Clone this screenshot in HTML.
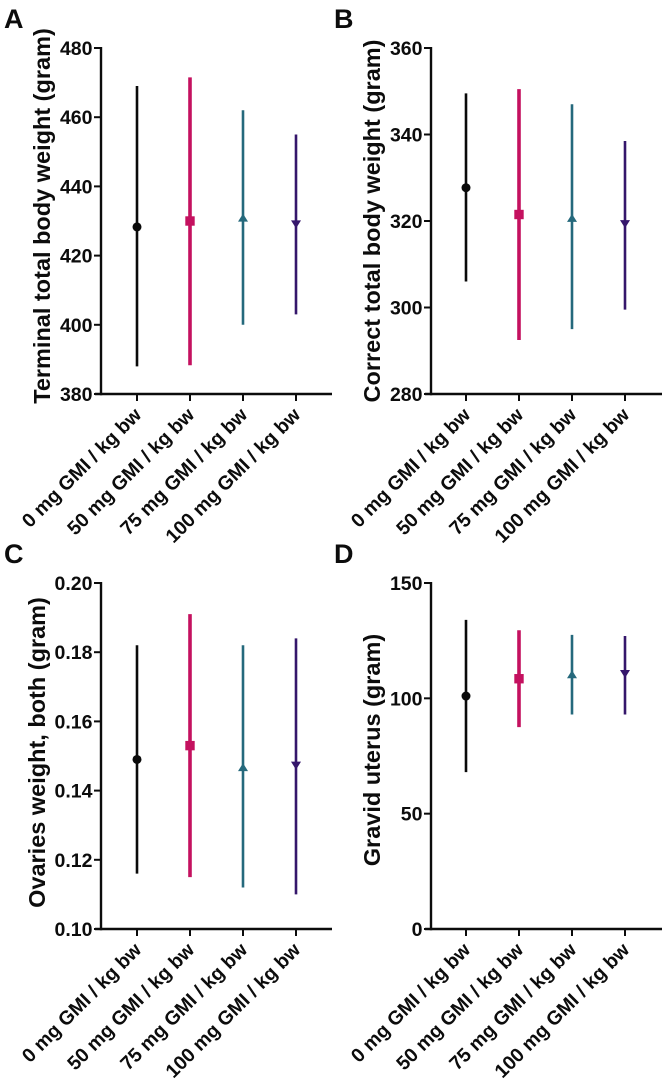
<!DOCTYPE html>
<html lang="en">
<head>
<meta charset="utf-8">
<title>Body and organ weights by GMI dose</title>
<style>
html,body{margin:0;padding:0;background:#fff;width:665px;height:1085px;overflow:hidden}
svg{display:block;position:absolute;left:0;top:0}
text{font-family:"Liberation Sans",sans-serif;fill:#0c0c0c;font-weight:bold}
</style>
</head>
<body>
<svg id="chart" width="665" height="1085" viewBox="0 0 665 1085" xmlns="http://www.w3.org/2000/svg"></svg>
<script>
const categories = ['0 mg GMI / kg bw', '50 mg GMI / kg bw', '75 mg GMI / kg bw', '100 mg GMI / kg bw'];

const panelALetter = 'A';
const panelATitle = 'Terminal total body weight (gram)';
const panelATicks = [380, 400, 420, 440, 460, 480];
const panelAMeans = [428.3, 430, 430.7, 429.3];
const panelALows = [388, 388.3, 400, 403];
const panelAHighs = [469, 471.5, 462, 455];

const panelBLetter = 'B';
const panelBTitle = 'Correct total body weight (gram)';
const panelBTicks = [280, 300, 320, 340, 360];
const panelBMeans = [327.7, 321.5, 320.5, 319.5];
const panelBLows = [306, 292.5, 295, 299.5];
const panelBHighs = [349.5, 350.5, 347, 338.5];

const panelCLetter = 'C';
const panelCTitle = 'Ovaries weight, both (gram)';
const panelCTicks = ['0.10', '0.12', '0.14', '0.16', '0.18', '0.20'];
const panelCMeans = [0.149, 0.153, 0.1465, 0.1475];
const panelCLows = [0.116, 0.115, 0.112, 0.110];
const panelCHighs = [0.182, 0.191, 0.182, 0.184];

const panelDLetter = 'D';
const panelDTitle = 'Gravid uterus (gram)';
const panelDTicks = [0, 50, 100, 150];
const panelDMeans = [101, 108.5, 110, 111];
const panelDLows = [68, 87.5, 93, 93];
const panelDHighs = [134, 129.5, 127.5, 127];

const seriesColors = ['#0a0a0a', '#c4115f', '#25697c', '#35166b'];
const seriesWidths = [2.6, 3.6, 2.6, 2.6];

const svg = document.getElementById('chart');
const NS = 'http://www.w3.org/2000/svg';

function make(tag, attrs, parent) {
  const el = document.createElementNS(NS, tag);
  for (const k in attrs) el.setAttribute(k, attrs[k]);
  parent.appendChild(el);
  return el;
}

function drawMarker(group, kind, cx, cy, color) {
  if (kind === 0) {
    return make('circle', { cx: cx, cy: cy, r: 4.5, fill: color }, group);
  }
  if (kind === 1) {
    return make('rect', { x: cx - 4.7, y: cy - 4.7, width: 9.4, height: 9.4, fill: color }, group);
  }
  if (kind === 2) {
    return make('polygon', { points: (cx - 5) + ',' + (cy + 3) + ' ' + (cx + 5) + ',' + (cy + 3) + ' ' + cx + ',' + (cy - 5), fill: color }, group);
  }
  return make('polygon', { points: (cx - 5) + ',' + (cy - 3) + ' ' + (cx + 5) + ',' + (cy - 3) + ' ' + cx + ',' + (cy + 5), fill: color }, group);
}

function drawPanel(p) {
  const key = p.letter.toLowerCase();
  const g = make('g', {}, svg);
  
  

  const numericTicks = p.ticks.map(Number);
  const yMin = Math.min.apply(null, numericTicks);
  const yMax = Math.max.apply(null, numericTicks);
  const yScale = v => p.bottom - (v - yMin) / (yMax - yMin) * (p.bottom - p.top);
  const xScale = i => p.firstX + i * p.stepX;

  const letter = make('text', { x: p.letterX, y: p.letterY, 'font-size': 27 }, g);
  letter.textContent = p.letter;
  
  

  const yAxis = make('line', { x1: p.axisX, x2: p.axisX, y1: p.top - 1, y2: p.bottom + 1.3, stroke: '#0c0c0c', 'stroke-width': 2.4 }, g);
  
  

  const xAxis = make('line', { x1: p.axisX - 6, x2: p.axisRight, y1: p.bottom, y2: p.bottom, stroke: '#0c0c0c', 'stroke-width': 2.4 }, g);
  
  

  p.ticks.forEach(function (t) {
    const y = yScale(Number(t));
    const tick = make('line', { x1: p.axisX - 7, x2: p.axisX, y1: y, y2: y, stroke: '#0c0c0c', 'stroke-width': 2 }, g);
    
    
    const label = make('text', { x: p.axisX - 8.5, y: y + 7, 'font-size': 19.5, 'text-anchor': 'end' }, g);
    label.textContent = t;
    
    
  });

  const titleY = (p.titleStart + p.titleEnd) / 2;
  const title = make('text', { x: p.titleX, y: titleY, 'font-size': p.titleSize, 'text-anchor': 'middle', transform: 'rotate(-90 ' + p.titleX + ' ' + titleY + ')' }, g);
  title.textContent = p.title;
  
  

  categories.forEach(function (c, i) {
    const x = xScale(i);
    const tick = make('line', { x1: x, x2: x, y1: p.bottom, y2: p.bottom + 7, stroke: '#0c0c0c', 'stroke-width': 2 }, g);
    
    
    const lx = x + 5.5;
    const ly = p.bottom + 22;
    const label = make('text', { x: lx, y: ly, 'font-size': 19.5, 'text-anchor': 'end', transform: 'rotate(-45 ' + lx + ' ' + ly + ')' }, g);
    label.textContent = c;
    
    

    const color = seriesColors[i];
    const whisker = make('line', { x1: x, x2: x, y1: yScale(p.lows[i]), y2: yScale(p.highs[i]), stroke: color, 'stroke-width': seriesWidths[i] }, g);
    
    
    const marker = drawMarker(g, i, x, yScale(p.means[i]), color);
    
    
  });
}

drawPanel({ letter: panelALetter, title: panelATitle, ticks: panelATicks, means: panelAMeans, lows: panelALows, highs: panelAHighs,
  axisX: 101, axisRight: 332, top: 48, bottom: 394, firstX: 137, stepX: 53, letterX: 4, letterY: 28, titleX: 50, titleStart: 28, titleEnd: 404, titleSize: 23.5 });
drawPanel({ letter: panelBLetter, title: panelBTitle, ticks: panelBTicks, means: panelBMeans, lows: panelBLows, highs: panelBHighs,
  axisX: 431, axisRight: 662, top: 48, bottom: 394, firstX: 466, stepX: 53, letterX: 334, letterY: 28, titleX: 380, titleStart: 38, titleEnd: 404, titleSize: 23.5 });
drawPanel({ letter: panelCLetter, title: panelCTitle, ticks: panelCTicks, means: panelCMeans, lows: panelCLows, highs: panelCHighs,
  axisX: 101, axisRight: 332, top: 583, bottom: 929, firstX: 137, stepX: 53, letterX: 4, letterY: 563, titleX: 45, titleStart: 597, titleEnd: 908, titleSize: 23.5 });
drawPanel({ letter: panelDLetter, title: panelDTitle, ticks: panelDTicks, means: panelDMeans, lows: panelDLows, highs: panelDHighs,
  axisX: 431, axisRight: 662, top: 583, bottom: 929, firstX: 466, stepX: 53, letterX: 334, letterY: 563, titleX: 380, titleStart: 634, titleEnd: 866, titleSize: 23.5 });
</script>
</body>
</html>
